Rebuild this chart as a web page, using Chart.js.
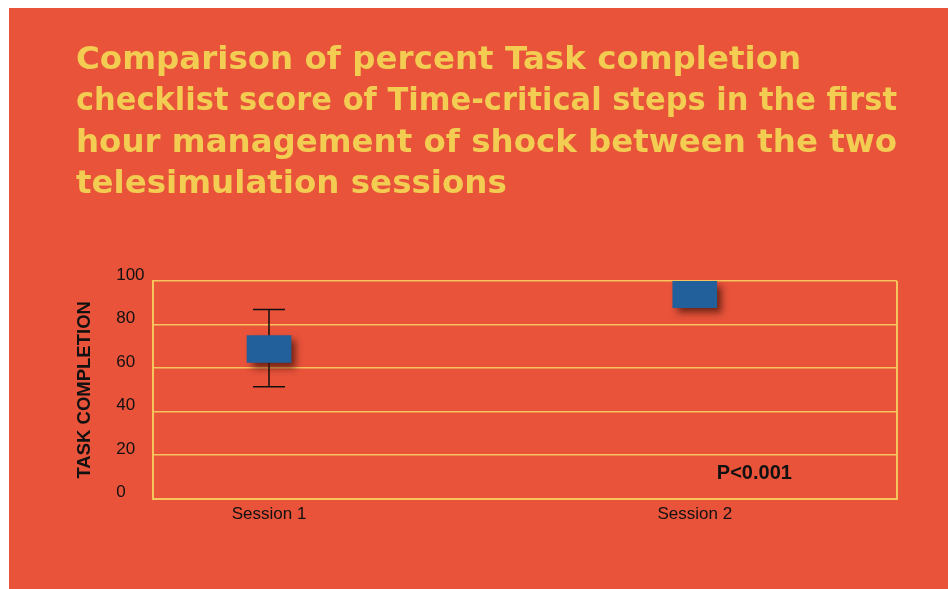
<!DOCTYPE html>
<html>
<head>
<meta charset="utf-8">
<script src="https://cdn.jsdelivr.net/npm/chart.js@4.4.1/dist/chart.umd.min.js"></script>
<style>
  body { margin: 0; background: #ffffff; }
  #panel { position: absolute; left: 9px; top: 8px; width: 939px; height: 581px; background: #e8533a; }
</style>
</head>
<body>
<div id="panel"><canvas id="boxChart" width="939" height="581"></canvas></div>
<script>
// Chart data
const sessions = ['Session 1', 'Session 2'];
const sessionPos = [1, 2];
const boxLow = [62.6, 87.8];
const boxHigh = [75, 100];
const whiskerLow = [51.4, null];
const whiskerHigh = [87, null];
const yTicks = [0, 20, 40, 60, 80, 100];
const pLabel = 'P<0.001';

const titleLines = [
  'Comparison of percent Task completion',
  'checklist score of Time-critical steps in the first',
  'hour management of shock between the two',
  'telesimulation sessions'
];

const FONT = "'Liberation Sans', Arial, sans-serif";
const TITLE_FONT = "'DejaVu Sans', sans-serif";
const GRID = '#f6c45c';

// Whiskers drawn under the boxes, from the data through the scales
const whiskerPlugin = {
  id: 'whiskers',
  beforeDatasetsDraw(chart) {
    const { ctx, scales: { x, y } } = chart;
    ctx.save();
    ctx.strokeStyle = '#111111';
    ctx.lineWidth = 1.5;
    sessionPos.forEach((pos, i) => {
      if (whiskerLow[i] == null) return;
      const px = x.getPixelForValue(pos);
      const lo = y.getPixelForValue(whiskerLow[i]);
      const hi = y.getPixelForValue(whiskerHigh[i]);
      ctx.beginPath();
      ctx.moveTo(px, lo); ctx.lineTo(px, hi);
      ctx.moveTo(px - 16, lo); ctx.lineTo(px + 16, lo);
      ctx.moveTo(px - 16, hi); ctx.lineTo(px + 16, hi);
      ctx.stroke();
    });
    ctx.restore();
  }
};

// Drop shadow under the boxes
const shadowPlugin = {
  id: 'boxShadow',
  beforeDatasetDraw(chart) {
    const ctx = chart.ctx;
    ctx.save();
    ctx.shadowColor = 'rgba(70, 20, 10, 0.75)';
    ctx.shadowOffsetX = 5;
    ctx.shadowOffsetY = 5;
    ctx.shadowBlur = 7;
  },
  afterDatasetDraw(chart) {
    chart.ctx.restore();
  }
};

// Right frame line and the p-value note
const framePlugin = {
  id: 'frame',
  afterDraw(chart) {
    const { ctx, chartArea, scales: { x, y } } = chart;
    ctx.save();
    ctx.strokeStyle = GRID;
    ctx.lineWidth = 2;
    ctx.beginPath();
    ctx.moveTo(chartArea.right, chartArea.top);
    ctx.lineTo(chartArea.right, chartArea.bottom);
    ctx.stroke();
    ctx.fillStyle = '#111111';
    ctx.font = 'bold 20px ' + FONT;
    ctx.textAlign = 'center';
    ctx.textBaseline = 'middle';
    ctx.fillText(pLabel, x.getPixelForValue(2.14), y.getPixelForValue(11.5));
    ctx.restore();
  }
};

const ctx = document.getElementById('boxChart').getContext('2d');
new Chart(ctx, {
  type: 'bar',
  data: {
    datasets: [{
      data: sessionPos.map((pos, i) => ({ x: pos, y: [boxLow[i], boxHigh[i]] })),
      backgroundColor: '#21609b',
      borderWidth: 0,
      barThickness: 44
    }]
  },
  options: {
    responsive: false,
    animation: false,
    devicePixelRatio: 1,
    layout: { padding: { left: 67, right: 51, top: 0, bottom: 66 } },
    plugins: {
      legend: { display: false },
      tooltip: { enabled: false },
      title: {
        display: true,
        text: titleLines,
        align: 'start',
        color: '#f2cd52',
        font: { family: TITLE_FONT, size: 32.5, weight: 'bold', lineHeight: 1.27 },
        padding: { top: 32, bottom: 76 }
      }
    },
    scales: {
      x: {
        type: 'linear',
        offset: false,
        min: 0.728,
        max: 2.475,
        afterBuildTicks: (scale) => { scale.ticks = sessionPos.map(v => ({ value: v })); },
        ticks: {
          color: '#111111',
          font: { family: FONT, size: 17 },
          padding: -2,
          callback: (v) => sessions[sessionPos.indexOf(v)]
        },
        grid: { display: false },
        border: { display: true, color: GRID, width: 2 }
      },
      y: {
        min: 0,
        max: 100,
        weight: 0,
        afterBuildTicks: (scale) => { scale.ticks = yTicks.map(v => ({ value: v })); },
        afterFit: (scale) => { scale.width = 37; },
        ticks: {
          color: '#111111',
          font: { family: FONT, size: 17 },
          padding: 8,
          crossAlign: 'far',
          labelOffset: -6
        },
        grid: { color: GRID, lineWidth: 1.5, drawTicks: false },
        border: { display: true, color: GRID, width: 2 }
      },
      // outer left axis that only carries the axis title
      yTitle: {
        type: 'linear',
        position: 'left',
        min: 0,
        max: 100,
        weight: 1,
        ticks: { display: false },
        grid: { display: false, drawTicks: false },
        border: { display: false },
        title: {
          display: true,
          text: 'TASK COMPLETION',
          color: '#111111',
          font: { family: FONT, size: 18.5, weight: 'bold' },
          padding: { top: -2, bottom: 20 }
        }
      }
    }
  },
  plugins: [whiskerPlugin, shadowPlugin, framePlugin]
});
</script>
</body>
</html>
